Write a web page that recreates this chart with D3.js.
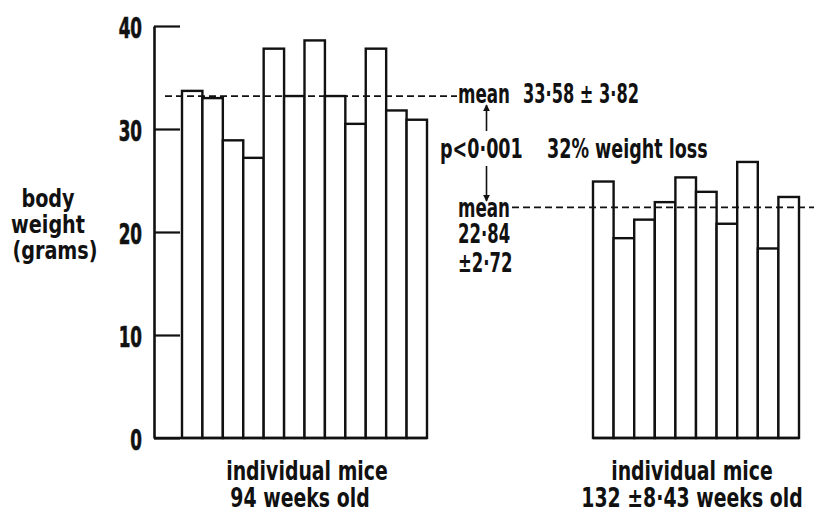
<!DOCTYPE html>
<html>
<head>
<meta charset="utf-8">
<script src="https://cdn.jsdelivr.net/npm/d3@7"></script>
<style>
  body { margin: 0; background: #fff; }
  text { font-family: "DejaVu Sans", sans-serif; font-weight: bold; fill: #111; }
</style>
</head>
<body>
<svg id="canvas" width="814" height="510"></svg>
<script>
// body weight of individual mice
const youngWeights = [33.7, 33.0, 28.9, 27.2, 37.8, 33.2, 38.6, 33.2, 30.5, 37.8, 31.8, 30.9]
const oldWeights = [24.9, 19.4, 21.2, 22.9, 25.3, 23.9, 20.8, 26.8, 18.4, 23.4]
const yTicks = [0, 10, 20, 30, 40]
const meanLevels = [33.2, 22.4] // where the dashed mean lines sit
const groupLabels = [['individual mice', '94 weeks old'], ['individual mice', '132 \u00b18\u00b743 weeks old']]
const yLabel = ['body', 'weight', '(grams)']

const svg = d3.select('#canvas')
const ink = '#111'

const y = d3.scaleLinear().domain([0, 40]).range([438, 26])
const xYoung = d3.scaleBand().domain(d3.range(youngWeights.length)).range([182, 427])
const xOld = d3.scaleBand().domain(d3.range(oldWeights.length)).range([593, 799])

// narrow text: the original uses a condensed DIN-like face
function label(parent, x, yy, str, size, sx, anchor) {
  return parent.append('text')
    .attr('transform', `translate(${x},${yy}) scale(${sx},1)`)
    .attr('text-anchor', anchor || 'start')
    .style('font-size', size + 'px')
    .text(str)
}

// y axis, ticks pointing inward
const tickScale = 0.6
const axis = svg.append('g')
  .attr('transform', 'translate(154,0)')
  .call(d3.axisLeft(y).tickValues(yTicks).tickSize(-26).tickSizeOuter(0).tickPadding(12))
axis.attr('font-size', null).attr('font-family', null)
axis.select('.domain').attr('stroke', ink).attr('stroke-width', 2.6)
axis.selectAll('.tick line').attr('stroke', ink).attr('stroke-width', 2.2)
axis.selectAll('.tick text')
  .style('font-size', '28px')
  .attr('dy', '0.4em')
  .attr('x', -12 / tickScale)
  .attr('transform', `scale(${tickScale},1)`)
  .attr('fill', ink)
  .attr('stroke', ink)
  .attr('stroke-width', 0.7)

// bars
function drawBars(data, x) {
  svg.append('g').selectAll('rect')
    .data(data)
    .enter()
    .append('rect')
    .attr('x', (d, i) => x(i))
    .attr('y', d => y(d))
    .attr('width', x.bandwidth())
    .attr('height', d => y(0) - y(d))
    .attr('fill', '#fff')
    .attr('stroke', ink)
    .attr('stroke-width', 2.4)
}
drawBars(youngWeights, xYoung)
drawBars(oldWeights, xOld)

// baselines
svg.append('line')
  .attr('x1', 154).attr('x2', xYoung.range()[1])
  .attr('y1', y(0)).attr('y2', y(0))
  .attr('stroke', ink).attr('stroke-width', 2.6)
svg.append('line')
  .attr('x1', xOld.range()[0]).attr('x2', xOld.range()[1])
  .attr('y1', y(0)).attr('y2', y(0))
  .attr('stroke', ink).attr('stroke-width', 2.6)

// dashed mean lines
svg.append('line')
  .attr('x1', 165).attr('x2', 457)
  .attr('y1', y(meanLevels[0])).attr('y2', y(meanLevels[0]))
  .attr('stroke', ink).attr('stroke-width', 1.8).attr('stroke-dasharray', '7,4')
svg.append('line')
  .attr('x1', 512).attr('x2', 814)
  .attr('y1', y(meanLevels[1])).attr('y2', y(meanLevels[1]))
  .attr('stroke', ink).attr('stroke-width', 1.8).attr('stroke-dasharray', '7,4')

// annotations
const note = svg.append('g')
label(note, 458, y(meanLevels[0]) + 7, 'mean', 27, 0.62)
label(note, 523, y(meanLevels[0]) + 7, '33\u00b758 \u00b1 3\u00b782', 27, 0.6)
label(note, 440, 158, 'p<0\u00b7001', 27, 0.65)
label(note, 547, 158, '32% weight loss', 27, 0.65)
label(note, 458, y(meanLevels[1]) + 10, 'mean', 27, 0.62)
label(note, 458, 243, '22\u00b784', 27, 0.61)
label(note, 458, 272, '\u00b12\u00b772', 27, 0.61)

// arrows between the means
svg.append('defs').append('marker')
  .attr('id', 'head')
  .attr('viewBox', '0 0 10 10')
  .attr('refX', 9).attr('refY', 5)
  .attr('markerWidth', 7).attr('markerHeight', 7)
  .attr('markerUnits', 'userSpaceOnUse')
  .attr('orient', 'auto')
  .append('path').attr('d', 'M0,0L10,5L0,10Z').attr('fill', ink)
svg.append('line')
  .attr('x1', 486.5).attr('x2', 486.5).attr('y1', 131).attr('y2', 105)
  .attr('stroke', ink).attr('stroke-width', 1.6).attr('marker-end', 'url(#head)')
svg.append('line')
  .attr('x1', 486.5).attr('x2', 486.5).attr('y1', 166).attr('y2', 201)
  .attr('stroke', ink).attr('stroke-width', 1.6).attr('marker-end', 'url(#head)')

// y axis title
const title = svg.append('g')
yLabel.forEach((d, i) => label(title, i === 2 ? 55 : 48, 207 + i * 26, d, 24, 0.8, 'middle'))

// group labels under the bars
const groupCentres = [307, 692]
groupLabels.forEach((lines, g) => {
  const grp = svg.append('g')
  lines.forEach((d, i) => {
    label(grp, groupCentres[g] - (g === 0 && i === 1 ? 7 : 0), 480 + i * 27, d, 27, 0.7, 'middle')
  })
})
</script>
</body>
</html>
